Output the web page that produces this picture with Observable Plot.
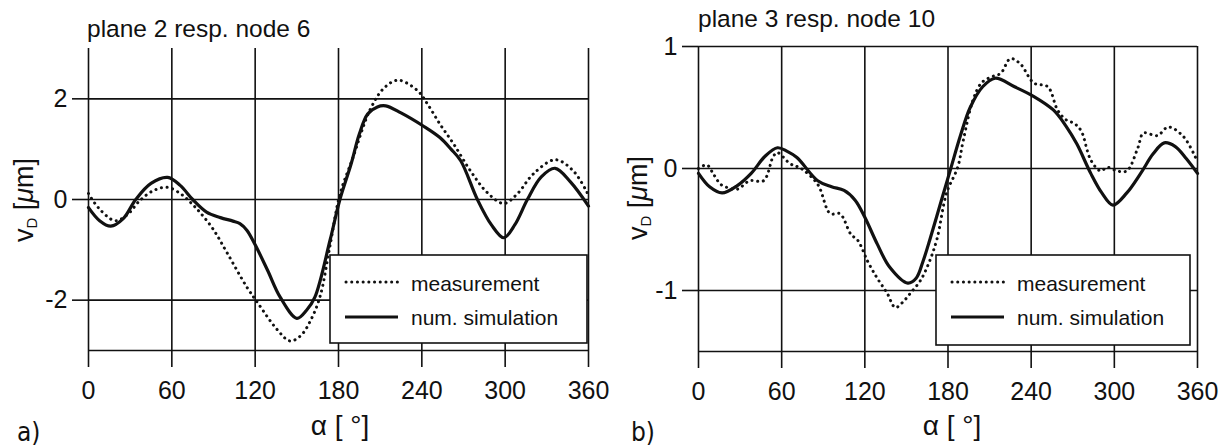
<!DOCTYPE html>
<html>
<head>
<meta charset="utf-8">
<script src="https://cdn.jsdelivr.net/npm/d3@7"></script>
<script src="https://cdn.jsdelivr.net/npm/@observablehq/plot@0.6"></script>
<style>
  html, body { margin: 0; padding: 0; background: #fff; }
  #wrap { display: flex; width: 1228px; height: 448px; overflow: hidden; }
  svg { display: block; }
</style>
</head>
<body>
<div id="wrap"></div>
<script>
// ---------- data ----------
const xTicks = [0, 60, 120, 180, 240, 300, 360];
const leftYTicks = [-2, 0, 2];
const rightYTicks = [-1, 0, 1];
const leftYDomain = [-3, 3];
const rightYDomain = [-1.5, 1];

const titles = ["plane 2 resp. node 6", "plane 3 resp. node 10"];
const panelTags = ["a)", "b)"];
const seriesNames = ["measurement", "num. simulation"];

// panel a) numerical simulation
const aSimAngle = [0, 8, 16, 25, 34, 45, 57, 66, 75, 85, 95, 104, 109, 114, 120, 129, 138, 150, 157, 163, 174, 181, 189, 195, 201, 208, 214, 225, 241, 253, 261, 268, 280, 290, 299, 307, 316, 326, 336, 347, 360];
const aSimValue = [-0.16, -0.42, -0.53, -0.38, 0.0, 0.32, 0.44, 0.28, 0.0, -0.25, -0.36, -0.43, -0.48, -0.61, -0.9, -1.41, -1.94, -2.36, -2.2, -1.94, -0.8, 0.0, 0.7, 1.3, 1.7, 1.84, 1.86, 1.72, 1.46, 1.23, 1.0, 0.77, 0.0, -0.5, -0.76, -0.5, 0.0, 0.45, 0.62, 0.35, -0.13];

// panel a) measurement
const aMeasAngle = [0, 7, 19, 28, 37, 47, 57, 68, 75, 81, 90, 100, 114, 122, 136, 145, 153, 161, 167, 174, 181, 190, 203, 213, 223, 237, 244, 253, 263, 275, 287, 299, 309, 320, 336, 349, 359];
const aMeasValue = [0.12, -0.16, -0.42, -0.3, -0.02, 0.18, 0.24, 0.08, -0.1, -0.28, -0.6, -1.07, -1.74, -2.06, -2.59, -2.81, -2.7, -2.34, -1.9, -0.9, 0.1, 0.8, 1.8, 2.22, 2.37, 2.16, 1.9, 1.5, 1.1, 0.57, 0.14, -0.08, 0.12, 0.5, 0.79, 0.57, 0.14];

// panel b) numerical simulation
const bSimAngle = [0, 8, 17, 28, 38, 48, 57, 64, 71, 86, 96, 105, 113, 120, 129, 138, 151, 157, 162, 167, 175, 182, 189, 196, 205, 214, 228, 242, 256, 265, 273, 283, 291, 299, 309, 319, 328, 336, 344, 352, 360];
const bSimValue = [-0.04, -0.15, -0.2, -0.14, -0.04, 0.1, 0.17, 0.14, 0.09, -0.1, -0.15, -0.18, -0.26, -0.4, -0.62, -0.81, -0.94, -0.9, -0.76, -0.58, -0.27, 0.0, 0.27, 0.5, 0.67, 0.74, 0.67, 0.59, 0.48, 0.35, 0.2, -0.04, -0.2, -0.3, -0.2, -0.04, 0.12, 0.21, 0.18, 0.08, -0.04];

// panel b) measurement
const bMeasAngle = [0, 6, 11, 16, 22, 28, 37, 47, 54, 57, 66, 74, 86, 95, 102, 110, 115, 122, 129, 136, 142, 147, 153, 160, 166, 172, 179, 187, 191, 198, 204, 211, 218, 225, 232, 242, 252, 259, 265, 271, 276, 283, 290, 295, 302, 309, 317, 321, 331, 339, 350, 359];
const bMeasValue = [0.0, 0.03, -0.05, -0.13, -0.16, -0.17, -0.1, -0.1, 0.1, 0.13, 0.04, 0.0, -0.13, -0.37, -0.37, -0.54, -0.59, -0.76, -0.9, -1.02, -1.14, -1.1, -1.02, -0.92, -0.78, -0.58, -0.2, 0.01, 0.23, 0.56, 0.7, 0.75, 0.78, 0.9, 0.86, 0.7, 0.67, 0.48, 0.4, 0.37, 0.31, 0.07, -0.02, 0.01, -0.02, -0.02, 0.17, 0.29, 0.27, 0.34, 0.26, 0.08];

// ---------- helpers ----------
const FONT = "'Liberation Sans', Arial, Helvetica, sans-serif";
const zip = (xs, ys) => xs.map((x, i) => ({angle: x, v: ys[i]}));
const ink = "#111";

function panel(cfg) {
  const svg = Plot.plot({
    width: 614, height: 448,
    marginLeft: cfg.ml, marginRight: cfg.mr, marginTop: cfg.mt, marginBottom: cfg.mb,
    x: {domain: [0, 360]},
    y: {domain: cfg.yDomain},
    style: {fontFamily: FONT, fontSize: "25px", color: ink, background: "#fff", overflow: "visible"},
    marks: [
      Plot.gridX(xTicks, {stroke: ink, strokeOpacity: 1, strokeWidth: 1.6}),
      Plot.gridY(cfg.yTicks, {stroke: ink, strokeOpacity: 1, strokeWidth: 1.6}),
      Plot.ruleY([cfg.yDomain[0]], {stroke: ink, strokeWidth: 1.6}),
      Plot.axisX(xTicks, {tickSize: 17, tickPadding: 14, label: null, strokeWidth: 1.6, tickFormat: d => String(d)}),
      Plot.axisY(cfg.yTicks, {tickSize: 16, tickPadding: 5, label: null, strokeWidth: 1.6, tickFormat: d => String(d)}),
      Plot.line(zip(cfg.measA, cfg.measV), {x: "angle", y: "v", curve: "catmull-rom", stroke: ink, strokeWidth: 3, strokeDasharray: "0.1 5.6", strokeLinecap: "round"}),
      Plot.line(zip(cfg.simA, cfg.simV), {x: "angle", y: "v", curve: "catmull-rom", stroke: ink, strokeWidth: 3.2})
    ]
  });
  const s = d3.select(svg);
  const txt = (x, y, size) => s.append("text").attr("x", x).attr("y", y)
    .attr("text-anchor", "start").attr("font-family", FONT).attr("font-size", size).attr("fill", ink);
  // title
  txt(cfg.titleX, cfg.titleY, 24.5).text(cfg.title);
  // y label
  const yl = s.append("text").attr("transform", `translate(${cfg.ylX},${cfg.ylY}) rotate(-90)`)
    .attr("text-anchor", "middle").attr("font-family", FONT).attr("font-size", 27).attr("fill", ink);
  yl.append("tspan").text("v");
  yl.append("tspan").attr("font-size", 15).attr("dy", 4).text("D");
  yl.append("tspan").attr("dy", -4).text(" [");
  yl.append("tspan").attr("font-style", "italic").text("μ");
  yl.append("tspan").text("m]");
  // x label
  s.append("text").attr("x", cfg.xlX).attr("y", 435).attr("text-anchor", "middle")
    .attr("font-family", FONT).attr("font-size", 28).attr("fill", ink).text("α [ °]");
  // panel tag
  s.append("text").attr("x", 17).attr("y", 441).attr("text-anchor", "start")
    .attr("font-family", "'DejaVu Sans Condensed', 'DejaVu Sans', sans-serif").attr("font-size", 26).attr("fill", ink).text(cfg.tag);
  // legend
  const L = cfg.legend;
  s.append("rect").attr("x", L.x).attr("y", L.y).attr("width", L.w).attr("height", L.h)
    .attr("fill", "#fff").attr("stroke", ink).attr("stroke-width", 1.6);
  s.append("line").attr("x1", L.x + 16).attr("x2", L.x + 68).attr("y1", L.y + 27).attr("y2", L.y + 27)
    .attr("stroke", ink).attr("stroke-width", 3).attr("stroke-dasharray", "0.1 5.6").attr("stroke-linecap", "round");
  s.append("line").attr("x1", L.x + 15).attr("x2", L.x + 68).attr("y1", L.y + 62).attr("y2", L.y + 62)
    .attr("stroke", ink).attr("stroke-width", 3.2);
  txt(L.x + 81, L.y + 36, 21).text(seriesNames[0]);
  txt(L.x + 81, L.y + 70, 21).text(seriesNames[1]);
  return svg;
}

const wrap = document.getElementById("wrap");
wrap.appendChild(panel({
  ml: 88, mr: 26, mt: 48, mb: 98, yDomain: leftYDomain, yTicks: leftYTicks,
  simA: aSimAngle, simV: aSimValue, measA: aMeasAngle, measV: aMeasValue,
  title: titles[0], titleX: 87, titleY: 37, tag: panelTags[0],
  ylX: 33, ylY: 200, xlX: 340,
  legend: {x: 330, y: 255, w: 257, h: 88}
}));
wrap.appendChild(panel({
  ml: 84, mr: 31, mt: 46, mb: 97, yDomain: rightYDomain, yTicks: rightYTicks,
  simA: bSimAngle, simV: bSimValue, measA: bMeasAngle, measV: bMeasValue,
  title: titles[1], titleX: 84, titleY: 27, tag: panelTags[1],
  ylX: 33, ylY: 198, xlX: 338,
  legend: {x: 322, y: 255, w: 254, h: 90}
}));
</script>
</body>
</html>
